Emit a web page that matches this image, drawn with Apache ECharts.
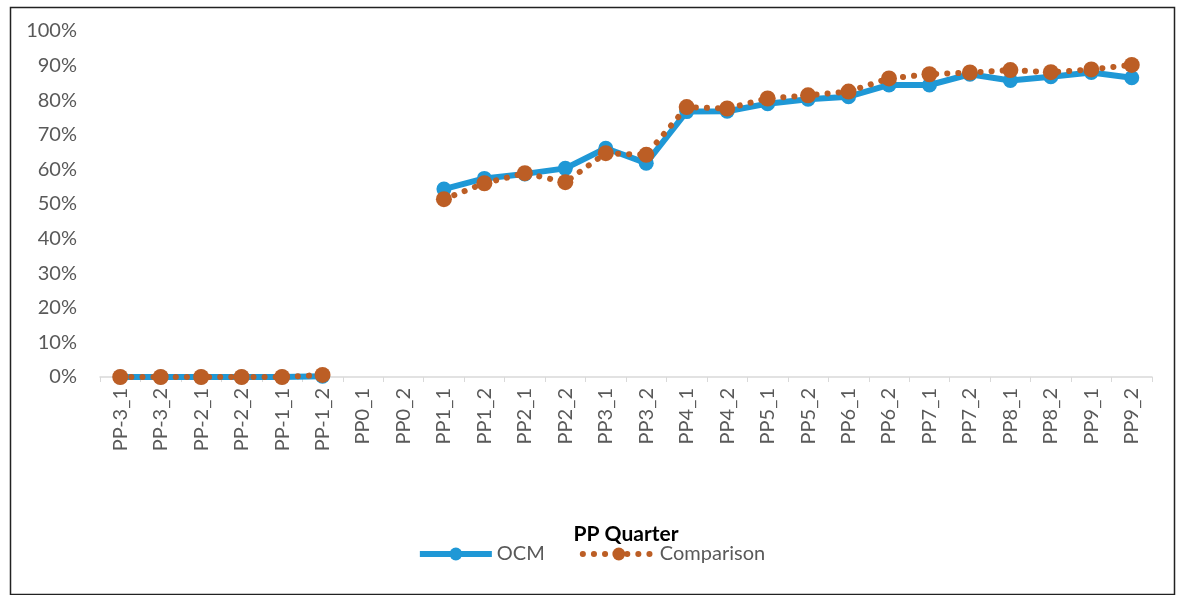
<!DOCTYPE html>
<html>
<head>
<meta charset="utf-8">
<script src="https://cdn.jsdelivr.net/npm/echarts@6/dist/echarts.min.js"></script>
<style>
html,body{margin:0;padding:0;background:#fff;}
#c{width:1182px;height:595px;}
</style>
</head>
<body>
<div id="c"></div>
<script>
const categories = ['PP-3_1','PP-3_2','PP-2_1','PP-2_2','PP-1_1','PP-1_2','PP0_1','PP0_2','PP1_1','PP1_2','PP2_1','PP2_2','PP3_1','PP3_2','PP4_1','PP4_2','PP5_1','PP5_2','PP6_1','PP6_2','PP7_1','PP7_2','PP8_1','PP8_2','PP9_1','PP9_2'];
const ocm = [0, 0, 0, 0, 0, 0.2, null, null, 54.3, 57.4, 58.7, 60.3, 66.1, 61.8, 76.7, 76.8, 79.0, 80.3, 81.0, 84.4, 84.4, 87.5, 85.7, 86.8, 88.0, 86.5];
const comparison = [0, 0, 0, 0, 0, 0.6, null, null, 51.4, 56.0, 58.9, 56.3, 64.7, 64.2, 78.0, 77.6, 80.5, 81.4, 82.5, 86.3, 87.5, 88.0, 88.7, 88.1, 88.9, 90.2];
const yTicks = [0, 100, 10];

const chart = echarts.init(document.getElementById('c'), null, {renderer: 'canvas'});
const font = 'Lato, "Open Sans", sans-serif';
const blue = '#1f98d6', orange = '#bc5e25';
chart.setOption({
  animation: false,
  backgroundColor: '#fff',
  textStyle: {fontFamily: font},
  graphic: [{
    type: 'rect', left: 8, top: 5, z: 100,
    shape: {width: 1164, height: 587},
    style: {fill: 'none', stroke: '#222', lineWidth: 1.5}
  }],
  grid: {left: 100, right: 30, top: 31, bottom: 218, containLabel: false},
  legend: {
    top: 539, left: 'center',
    itemWidth: 72, itemHeight: 16, itemGap: 35,
    textStyle: {color: '#595959', fontSize: 20, fontFamily: font},
    data: [
      {name: 'OCM', lineStyle: {width: 6, color: blue}},
      {name: 'Comparison', lineStyle: {width: 6, color: orange, type: [0.1, 11], cap: 'round'}}
    ]
  },
  xAxis: {
    type: 'category', data: categories, boundaryGap: true,
    name: 'PP Quarter', nameLocation: 'middle', nameGap: 147,
    nameTextStyle: {color: '#000', fontSize: 21, fontWeight: 'bold', fontFamily: font},
    axisLine: {lineStyle: {color: '#d9d9d9', width: 1.5}},
    axisTick: {show: true, length: 5, lineStyle: {color: '#d9d9d9'}},
    axisLabel: {rotate: 90, color: '#595959', fontSize: 20, margin: 11, fontFamily: font, interval: 0}
  },
  yAxis: {
    type: 'value', min: yTicks[0], max: yTicks[1], interval: yTicks[2],
    axisLine: {show: false}, axisTick: {show: false}, splitLine: {show: false},
    axisLabel: {color: '#595959', fontSize: 20, margin: 23, fontFamily: font, formatter: v => v + '%'}
  },
  series: [
    {
      name: 'OCM', type: 'line', data: ocm, z: 2,
      symbol: 'circle', symbolSize: 15,
      itemStyle: {color: blue},
      lineStyle: {color: blue, width: 6}
    },
    {
      name: 'Comparison', type: 'line', data: comparison, z: 3,
      symbol: 'circle', symbolSize: 16,
      itemStyle: {color: orange},
      lineStyle: {color: orange, width: 6, type: [0.1, 11], cap: 'round'}
    }
  ]
});
</script>
</body>
</html>
